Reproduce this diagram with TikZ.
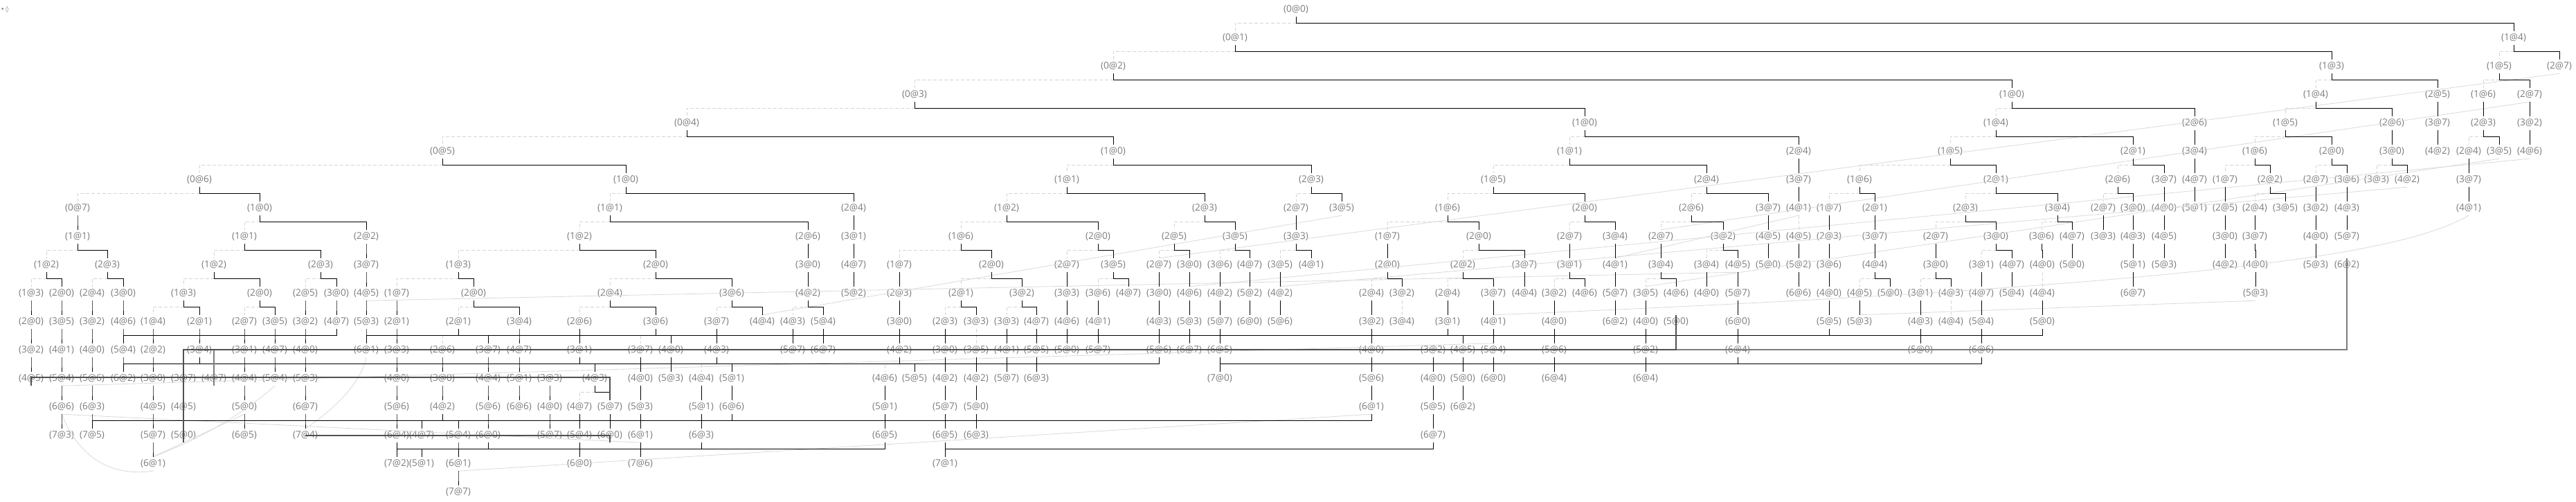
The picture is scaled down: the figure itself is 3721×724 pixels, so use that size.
\documentclass[tikz,border=0pt]{standalone}
\usepackage{fontspec}
\newfontfamily\lblfont{Open Sans}[Scale=1]
\newfontfamily\symfont{DejaVu Sans}
\definecolor{txtgray}{RGB}{125,125,125}
\definecolor{dashgray}{RGB}{212,212,212}
\definecolor{thickgray}{RGB}{80,80,80}
\definecolor{thickgraylight}{RGB}{125,125,125}
\definecolor{crossgray}{RGB}{218,218,218}
\tikzset{
  lbl/.style={text=txtgray, font=\lblfont\fontsize{13.6}{14}\selectfont, inner sep=0pt, minimum height=20pt, anchor=center},
  leftedge/.style={draw=dashgray, dash pattern=on 5pt off 3pt, line width=0.9pt},
  rightedge/.style={draw=black, line width=1pt},
  thickedge/.style={draw=thickgray, line width=2pt},
  thickedgelight/.style={draw=thickgraylight, line width=2pt},
  crossedge/.style={draw=crossgray, line width=0.8pt}
}
\newcommand\nd[3]{\node[lbl] (r#2x#1) at (#1,{14+41*#2}) {(#3)};}
\newcommand\EL[2]{\draw[leftedge] (#1.south) -- ++(0,9) -| (#2.north);}
\newcommand\ER[2]{\draw[rightedge] (#1.south) -- ++(0,9) -| (#2.north);}
\begin{document}
\begin{tikzpicture}[x=1pt,y=-1pt]
\useasboundingbox (0,0) rectangle (3721,724);
\fill[white] (0,0) rectangle (3721,724);
\node[text=txtgray, font=\symfont\fontsize{9}{10}\selectfont, inner sep=0pt, anchor=west] (legend) at (1,14) {•\,◊};
% row 0
\nd{1872}{0}{0@0}
% row 1
\nd{1784}{1}{0@1} \nd{3631}{1}{1@4}
% row 2
\nd{1608}{2}{0@2} \nd{3368}{2}{1@3} \nd{3610}{2}{1@5} \nd{3697}{2}{2@7}
% row 3
\nd{1321}{3}{0@3} \nd{2906}{3}{1@0} \nd{3345}{3}{1@4} \nd{3521}{3}{2@5} \nd{3587}{3}{1@6} \nd{3654}{3}{2@7}
% row 4
\nd{992}{4}{0@4} \nd{2289}{4}{1@0} \nd{2883}{4}{1@4} \nd{3170}{4}{2@6} \nd{3301}{4}{1@5} \nd{3455}{4}{2@6} \nd{3521}{4}{3@7} \nd{3587}{4}{2@3} \nd{3654}{4}{3@2}
% row 5
\nd{639}{5}{0@5} \nd{1608}{5}{1@0} \nd{2267}{5}{1@1} \nd{2598}{5}{2@4} \nd{2817}{5}{1@5} \nd{3081}{5}{2@1} \nd{3170}{5}{3@4} \nd{3257}{5}{1@6} \nd{3368}{5}{2@0} \nd{3455}{5}{3@0} \nd{3521}{5}{4@2} \nd{3566}{5}{2@4} \nd{3610}{5}{3@5} \nd{3654}{5}{4@6}
% row 6
\nd{288}{6}{0@6} \nd{904}{6}{1@0} \nd{1541}{6}{1@1} \nd{1894}{6}{2@3} \nd{2157}{6}{1@5} \nd{2465}{6}{2@4} \nd{2598}{6}{3@7} \nd{2686}{6}{1@6} \nd{2883}{6}{2@1} \nd{3059}{6}{2@6} \nd{3126}{6}{3@7} \nd{3170}{6}{4@7} \nd{3214}{6}{1@7} \nd{3279}{6}{2@2} \nd{3345}{6}{2@7} \nd{3390}{6}{3@6} \nd{3433}{6}{3@3} \nd{3477}{6}{4@2} \nd{3566}{6}{3@7}
% row 7
\nd{112}{7}{0@7} \nd{375}{7}{1@0} \nd{881}{7}{1@1} \nd{1233}{7}{2@4} \nd{1454}{7}{1@2} \nd{1740}{7}{2@3} \nd{1872}{7}{2@7} \nd{1938}{7}{3@5} \nd{2091}{7}{1@6} \nd{2289}{7}{2@0} \nd{2443}{7}{2@6} \nd{2554}{7}{3@7} \nd{2598}{7}{4@1} \nd{2642}{7}{1@7} \nd{2708}{7}{2@1} \nd{2839}{7}{2@3} \nd{2972}{7}{3@4} \nd{3038}{7}{2@7} \nd{3081}{7}{3@0} \nd{3126}{7}{4@0} \nd{3170}{7}{5@1} \nd{3214}{7}{2@5} \nd{3257}{7}{2@4} \nd{3301}{7}{3@5} \nd{3345}{7}{3@2} \nd{3390}{7}{4@3} \nd{3566}{7}{4@1}
% row 8
\nd{112}{8}{1@1} \nd{353}{8}{1@1} \nd{529}{8}{2@2} \nd{837}{8}{1@2} \nd{1167}{8}{2@6} \nd{1233}{8}{3@1} \nd{1388}{8}{1@6} \nd{1586}{8}{2@0} \nd{1696}{8}{2@5} \nd{1784}{8}{3@5} \nd{1872}{8}{3@3} \nd{2004}{8}{1@7} \nd{2136}{8}{2@0} \nd{2267}{8}{2@7} \nd{2333}{8}{3@4} \nd{2399}{8}{2@7} \nd{2489}{8}{3@2} \nd{2554}{8}{4@5} \nd{2598}{8}{4@5} \nd{2642}{8}{2@3} \nd{2708}{8}{3@7} \nd{2796}{8}{2@7} \nd{2883}{8}{3@0} \nd{2949}{8}{3@6} \nd{2993}{8}{4@7} \nd{3038}{8}{3@3} \nd{3081}{8}{4@3} \nd{3126}{8}{4@5} \nd{3214}{8}{3@0} \nd{3257}{8}{3@7} \nd{3345}{8}{4@0} \nd{3390}{8}{5@7}
% row 9
\nd{67}{9}{1@2} \nd{155}{9}{2@3} \nd{309}{9}{1@2} \nd{463}{9}{2@3} \nd{529}{9}{3@7} \nd{662}{9}{1@3} \nd{947}{9}{2@0} \nd{1167}{9}{3@0} \nd{1233}{9}{4@7} \nd{1299}{9}{1@7} \nd{1432}{9}{2@0} \nd{1541}{9}{2@7} \nd{1608}{9}{3@5} \nd{1674}{9}{2@7} \nd{1718}{9}{3@0} \nd{1762}{9}{3@6} \nd{1805}{9}{4@7} \nd{1849}{9}{3@5} \nd{1894}{9}{4@1} \nd{2004}{9}{2@0} \nd{2113}{9}{2@2} \nd{2202}{9}{3@7} \nd{2267}{9}{3@1} \nd{2333}{9}{4@1} \nd{2399}{9}{3@4} \nd{2465}{9}{3@4} \nd{2510}{9}{4@5} \nd{2554}{9}{5@0} \nd{2598}{9}{5@2} \nd{2642}{9}{3@6} \nd{2708}{9}{4@4} \nd{2796}{9}{3@0} \nd{2862}{9}{3@1} \nd{2906}{9}{4@7} \nd{2950}{9}{4@0} \nd{2993}{9}{5@0} \nd{3081}{9}{5@1} \nd{3126}{9}{5@3} \nd{3214}{9}{4@2} \nd{3258}{9}{4@0} \nd{3345}{9}{5@3} \nd{3390}{9}{6@2}
% row 10
\nd{45}{10}{1@3} \nd{89}{10}{2@0} \nd{133}{10}{2@4} \nd{178}{10}{3@0} \nd{265}{10}{1@3} \nd{375}{10}{2@0} \nd{441}{10}{2@5} \nd{486}{10}{3@0} \nd{529}{10}{4@5} \nd{573}{10}{1@7} \nd{684}{10}{2@0} \nd{881}{10}{2@4} \nd{1057}{10}{3@6} \nd{1167}{10}{4@2} \nd{1233}{10}{5@2} \nd{1299}{10}{2@3} \nd{1388}{10}{2@1} \nd{1476}{10}{3@2} \nd{1541}{10}{3@3} \nd{1586}{10}{3@6} \nd{1630}{10}{4@7} \nd{1674}{10}{3@0} \nd{1718}{10}{4@6} \nd{1762}{10}{4@2} \nd{1805}{10}{5@2} \nd{1849}{10}{4@2} \nd{1981}{10}{2@4} \nd{2025}{10}{3@2} \nd{2091}{10}{2@4} \nd{2157}{10}{3@7} \nd{2202}{10}{4@4} \nd{2245}{10}{3@2} \nd{2289}{10}{4@6} \nd{2333}{10}{5@7} \nd{2377}{10}{3@5} \nd{2421}{10}{4@6} \nd{2465}{10}{4@0} \nd{2510}{10}{5@7} \nd{2598}{10}{6@6} \nd{2642}{10}{4@0} \nd{2686}{10}{4@5} \nd{2730}{10}{5@0} \nd{2774}{10}{3@1} \nd{2818}{10}{4@3} \nd{2862}{10}{4@7} \nd{2906}{10}{5@4} \nd{2950}{10}{4@4} \nd{3081}{10}{6@7} \nd{3258}{10}{5@3}
% row 11
\nd{45}{11}{2@0} \nd{89}{11}{3@5} \nd{133}{11}{3@2} \nd{178}{11}{4@6} \nd{221}{11}{1@4} \nd{288}{11}{2@1} \nd{353}{11}{2@7} \nd{397}{11}{3@5} \nd{441}{11}{3@2} \nd{486}{11}{4@7} \nd{529}{11}{5@3} \nd{573}{11}{2@1} \nd{662}{11}{2@1} \nd{750}{11}{3@4} \nd{837}{11}{2@6} \nd{947}{11}{3@6} \nd{1035}{11}{3@7} \nd{1101}{11}{4@4} \nd{1145}{11}{4@3} \nd{1189}{11}{5@4} \nd{1299}{11}{3@0} \nd{1365}{11}{2@3} \nd{1410}{11}{3@3} \nd{1454}{11}{3@3} \nd{1497}{11}{4@7} \nd{1541}{11}{4@6} \nd{1586}{11}{4@1} \nd{1674}{11}{4@3} \nd{1718}{11}{5@3} \nd{1762}{11}{5@7} \nd{1805}{11}{6@0} \nd{1849}{11}{5@6} \nd{1981}{11}{3@2} \nd{2025}{11}{3@4} \nd{2091}{11}{3@1} \nd{2157}{11}{4@1} \nd{2245}{11}{4@0} \nd{2333}{11}{6@2} \nd{2377}{11}{4@0} \nd{2421}{11}{5@0} \nd{2510}{11}{6@0} \nd{2642}{11}{5@5} \nd{2686}{11}{5@3} \nd{2774}{11}{4@3} \nd{2818}{11}{4@4} \nd{2862}{11}{5@4} \nd{2950}{11}{5@0}
% row 12
\nd{45}{12}{3@2} \nd{89}{12}{4@1} \nd{133}{12}{4@0} \nd{178}{12}{5@4} \nd{221}{12}{2@2} \nd{288}{12}{3@4} \nd{353}{12}{3@1} \nd{397}{12}{4@7} \nd{441}{12}{4@0} \nd{529}{12}{6@1} \nd{573}{12}{3@3} \nd{639}{12}{2@6} \nd{705}{12}{3@7} \nd{750}{12}{4@7} \nd{837}{12}{3@1} \nd{925}{12}{3@7} \nd{969}{12}{4@0} \nd{1035}{12}{4@3} \nd{1145}{12}{5@7} \nd{1189}{12}{6@7} \nd{1299}{12}{4@2} \nd{1365}{12}{3@0} \nd{1410}{12}{3@5} \nd{1454}{12}{4@1} \nd{1497}{12}{5@5} \nd{1541}{12}{5@0} \nd{1586}{12}{5@7} \nd{1674}{12}{5@6} \nd{1718}{12}{6@7} \nd{1762}{12}{6@5} \nd{1981}{12}{4@0} \nd{2070}{12}{3@2} \nd{2113}{12}{4@5} \nd{2157}{12}{5@4} \nd{2245}{12}{5@6} \nd{2377}{12}{5@2} \nd{2510}{12}{6@4} \nd{2774}{12}{5@0} \nd{2862}{12}{6@6}
% row 13
\nd{45}{13}{4@5} \nd{89}{13}{5@4} \nd{133}{13}{5@6} \nd{178}{13}{6@2} \nd{221}{13}{3@0} \nd{265}{13}{3@7} \nd{309}{13}{4@7} \nd{353}{13}{4@4} \nd{397}{13}{5@4} \nd{441}{13}{5@3} \nd{573}{13}{4@0} \nd{639}{13}{3@0} \nd{705}{13}{4@4} \nd{750}{13}{5@1} \nd{794}{13}{3@3} \nd{859}{13}{4@3} \nd{925}{13}{4@0} \nd{969}{13}{5@3} \nd{1013}{13}{4@4} \nd{1057}{13}{5@1} \nd{1278}{13}{4@6} \nd{1321}{13}{5@5} \nd{1365}{13}{4@2} \nd{1410}{13}{4@2} \nd{1454}{13}{5@7} \nd{1497}{13}{6@3} \nd{1762}{13}{7@0} \nd{1981}{13}{5@6} \nd{2070}{13}{4@0} \nd{2113}{13}{5@0} \nd{2157}{13}{6@0} \nd{2245}{13}{6@4} \nd{2377}{13}{6@4}
% row 14
\nd{89}{14}{6@6} \nd{133}{14}{6@3} \nd{221}{14}{4@5} \nd{265}{14}{4@5} \nd{353}{14}{5@0} \nd{441}{14}{6@7} \nd{573}{14}{5@6} \nd{639}{14}{4@2} \nd{705}{14}{5@6} \nd{750}{14}{6@6} \nd{794}{14}{4@0} \nd{837}{14}{4@7} \nd{881}{14}{5@7} \nd{925}{14}{5@3} \nd{1013}{14}{5@1} \nd{1057}{14}{6@6} \nd{1278}{14}{5@1} \nd{1365}{14}{5@7} \nd{1410}{14}{5@0} \nd{1981}{14}{6@1} \nd{2070}{14}{5@5} \nd{2113}{14}{6@2}
% row 15
\nd{89}{15}{7@3} \nd{133}{15}{7@5} \nd{221}{15}{5@7} \nd{265}{15}{5@0} \nd{353}{15}{6@5} \nd{441}{15}{7@4} \nd{573}{15}{6@4} \nd{609}{15}{4@7} \nd{662}{15}{5@4} \nd{705}{15}{6@0} \nd{794}{15}{5@7} \nd{837}{15}{5@4} \nd{881}{15}{6@0} \nd{925}{15}{6@1} \nd{1013}{15}{6@3} \nd{1278}{15}{6@5} \nd{1365}{15}{6@5} \nd{1410}{15}{6@3} \nd{2070}{15}{6@7}
% row 16
\nd{221}{16}{6@1} \nd{573}{16}{7@2} \nd{609}{16}{5@1} \nd{662}{16}{6@1} \nd{837}{16}{6@0} \nd{925}{16}{7@6} \nd{1365}{16}{7@1}
% row 17
\nd{662}{17}{7@7}

% ---------- faint cross links ----------
\draw[crossedge] (r2x3697.south) -- (r9x1674.north);
\draw[crossedge] (r7x1938.south) -- (r11x1101.north);
\draw[crossedge] (r3x3654.south) -- (r8x2399.north);
\draw[crossedge] (r7x2598.south) -- (r9x2333.north);
\draw[crossedge] (r5x3654.south) -- (r10x1718.north);
\draw[crossedge] (r5x3610.south) -- (r10x2377.north);
\draw[crossedge] (r6x3477.south) -- (r10x1849.north);
\draw[crossedge] (r7x3566.south) .. controls (3480,360) and (3250,410) .. (r11x2157.north);
\draw[crossedge] (r10x3258.south) -- (r11x2686.north);
\draw[crossedge] (r10x529.south) -- (r9x2510.south);
\draw[crossedge] (r13x89.south) -- (r12x2157.north);
\draw[crossedge] (r16x662.south) -- (r14x1981.south);
\draw[crossedge] (r14x89.south) -- (r15x925.south);
\draw[crossedge] (r14x89.south) .. controls (110,650) and (150,690) .. (r16x221.south);
\draw[crossedge] (r16x221.north) .. controls (300,630) and (360,590) .. (r13x397.south);
\draw[crossedge] (r16x221.north) -- (r14x353.south);
\draw[crossedge] (r12x529.south) .. controls (520,560) and (470,600) .. (r15x441.north);

% ---------- edges ----------
\EL{r0x1872}{r1x1784} \ER{r0x1872}{r1x3631}
\EL{r1x1784}{r2x1608} \ER{r1x1784}{r2x3368} \EL{r1x3631}{r2x3610} \ER{r1x3631}{r2x3697}
\EL{r2x1608}{r3x1321} \ER{r2x1608}{r3x2906} \EL{r2x3368}{r3x3345} \ER{r2x3368}{r3x3521} \EL{r2x3610}{r3x3587} \ER{r2x3610}{r3x3654}
\EL{r3x1321}{r4x992} \ER{r3x1321}{r4x2289} \EL{r3x2906}{r4x2883} \ER{r3x2906}{r4x3170} \EL{r3x3345}{r4x3301} \ER{r3x3345}{r4x3455} \ER{r3x3521}{r4x3521} \ER{r3x3587}{r4x3587} \ER{r3x3654}{r4x3654}
\EL{r4x992}{r5x639} \ER{r4x992}{r5x1608} \EL{r4x2289}{r5x2267} \ER{r4x2289}{r5x2598} \EL{r4x2883}{r5x2817} \ER{r4x2883}{r5x3081} \ER{r4x3170}{r5x3170} \EL{r4x3301}{r5x3257} \ER{r4x3301}{r5x3368} \ER{r4x3455}{r5x3455} \ER{r4x3521}{r5x3521} \EL{r4x3587}{r5x3566} \ER{r4x3587}{r5x3610} \ER{r4x3654}{r5x3654}
\EL{r5x639}{r6x288} \ER{r5x639}{r6x904} \EL{r5x1608}{r6x1541} \ER{r5x1608}{r6x1894} \EL{r5x2267}{r6x2157} \ER{r5x2267}{r6x2465} \ER{r5x2598}{r6x2598} \EL{r5x2817}{r6x2686} \ER{r5x2817}{r6x2883} \EL{r5x3081}{r6x3059} \ER{r5x3081}{r6x3126} \ER{r5x3170}{r6x3170} \EL{r5x3257}{r6x3214} \ER{r5x3257}{r6x3279} \EL{r5x3368}{r6x3345} \ER{r5x3368}{r6x3390} \EL{r5x3455}{r6x3433} \ER{r5x3455}{r6x3477} \ER{r5x3566}{r6x3566}
\EL{r6x288}{r7x112} \ER{r6x288}{r7x375} \EL{r6x904}{r7x881} \ER{r6x904}{r7x1233} \EL{r6x1541}{r7x1454} \ER{r6x1541}{r7x1740} \EL{r6x1894}{r7x1872} \ER{r6x1894}{r7x1938} \EL{r6x2157}{r7x2091} \ER{r6x2157}{r7x2289} \EL{r6x2465}{r7x2443} \ER{r6x2465}{r7x2554} \ER{r6x2598}{r7x2598} \EL{r6x2686}{r7x2642} \ER{r6x2686}{r7x2708} \EL{r6x2883}{r7x2839} \ER{r6x2883}{r7x2972} \EL{r6x3059}{r7x3038} \ER{r6x3059}{r7x3081} \ER{r6x3126}{r7x3126} \ER{r6x3170}{r7x3170} \ER{r6x3214}{r7x3214} \EL{r6x3279}{r7x3257} \ER{r6x3279}{r7x3301} \ER{r6x3345}{r7x3345} \ER{r6x3390}{r7x3390} \ER{r6x3566}{r7x3566}
\ER{r7x112}{r8x112} \EL{r7x375}{r8x353} \ER{r7x375}{r8x529} \EL{r7x881}{r8x837} \ER{r7x881}{r8x1167} \ER{r7x1233}{r8x1233} \EL{r7x1454}{r8x1388} \ER{r7x1454}{r8x1586} \EL{r7x1740}{r8x1696} \ER{r7x1740}{r8x1784} \ER{r7x1872}{r8x1872} \EL{r7x2091}{r8x2004} \ER{r7x2091}{r8x2136} \EL{r7x2289}{r8x2267} \ER{r7x2289}{r8x2333} \EL{r7x2443}{r8x2399} \ER{r7x2443}{r8x2489} \ER{r7x2554}{r8x2554} \EL{r7x2598}{r8x2598} \ER{r7x2642}{r8x2642} \ER{r7x2708}{r8x2708} \EL{r7x2839}{r8x2796} \ER{r7x2839}{r8x2883} \EL{r7x2972}{r8x2949} \ER{r7x2972}{r8x2993} \ER{r7x3038}{r8x3038} \ER{r7x3081}{r8x3081} \ER{r7x3126}{r8x3126} \ER{r7x3214}{r8x3214} \ER{r7x3257}{r8x3257} \ER{r7x3345}{r8x3345} \ER{r7x3390}{r8x3390}
\EL{r8x112}{r9x67} \ER{r8x112}{r9x155} \EL{r8x353}{r9x309} \ER{r8x353}{r9x463} \ER{r8x529}{r9x529} \EL{r8x837}{r9x662} \ER{r8x837}{r9x947} \ER{r8x1167}{r9x1167} \ER{r8x1233}{r9x1233} \EL{r8x1388}{r9x1299} \ER{r8x1388}{r9x1432} \EL{r8x1586}{r9x1541} \ER{r8x1586}{r9x1608} \EL{r8x1696}{r9x1674} \ER{r8x1696}{r9x1718} \EL{r8x1784}{r9x1762} \ER{r8x1784}{r9x1805} \EL{r8x1872}{r9x1849} \ER{r8x1872}{r9x1894} \ER{r8x2004}{r9x2004} \EL{r8x2136}{r9x2113} \ER{r8x2136}{r9x2202} \ER{r8x2267}{r9x2267} \ER{r8x2333}{r9x2333} \ER{r8x2399}{r9x2399} \EL{r8x2489}{r9x2465} \ER{r8x2489}{r9x2510} \ER{r8x2554}{r9x2554} \ER{r8x2598}{r9x2598} \ER{r8x2642}{r9x2642} \ER{r8x2708}{r9x2708} \ER{r8x2796}{r9x2796} \EL{r8x2883}{r9x2862} \ER{r8x2883}{r9x2906} \ER{r8x2949}{r9x2950} \ER{r8x2993}{r9x2993} \ER{r8x3081}{r9x3081} \ER{r8x3126}{r9x3126} \ER{r8x3214}{r9x3214} \ER{r8x3257}{r9x3258} \ER{r8x3345}{r9x3345}
\EL{r9x67}{r10x45} \ER{r9x67}{r10x89} \EL{r9x155}{r10x133} \ER{r9x155}{r10x178} \EL{r9x309}{r10x265} \ER{r9x309}{r10x375} \EL{r9x463}{r10x441} \ER{r9x463}{r10x486} \ER{r9x529}{r10x529} \EL{r9x662}{r10x573} \ER{r9x662}{r10x684} \EL{r9x947}{r10x881} \ER{r9x947}{r10x1057} \ER{r9x1167}{r10x1167} \ER{r9x1233}{r10x1233} \ER{r9x1299}{r10x1299} \EL{r9x1432}{r10x1388} \ER{r9x1432}{r10x1476} \ER{r9x1541}{r10x1541} \EL{r9x1608}{r10x1586} \ER{r9x1608}{r10x1630} \ER{r9x1674}{r10x1674} \ER{r9x1718}{r10x1718} \ER{r9x1762}{r10x1762} \ER{r9x1805}{r10x1805} \ER{r9x1849}{r10x1849} \EL{r9x2004}{r10x1981} \ER{r9x2004}{r10x2025} \EL{r9x2113}{r10x2091} \ER{r9x2113}{r10x2157} \ER{r9x2202}{r10x2202} \EL{r9x2267}{r10x2245} \ER{r9x2267}{r10x2289} \ER{r9x2333}{r10x2333} \EL{r9x2399}{r10x2377} \ER{r9x2399}{r10x2421} \ER{r9x2465}{r10x2465} \ER{r9x2510}{r10x2510} \ER{r9x2598}{r10x2598} \ER{r9x2642}{r10x2642} \EL{r9x2708}{r10x2686} \ER{r9x2708}{r10x2730} \EL{r9x2796}{r10x2774} \ER{r9x2796}{r10x2818} \ER{r9x2862}{r10x2862} \ER{r9x2906}{r10x2906} \EL{r9x2950}{r10x2950} \ER{r9x3081}{r10x3081} \ER{r9x3258}{r10x3258}
\ER{r10x45}{r11x45} \ER{r10x89}{r11x89} \ER{r10x133}{r11x133} \ER{r10x178}{r11x178} \EL{r10x265}{r11x221} \ER{r10x265}{r11x288} \EL{r10x375}{r11x353} \ER{r10x375}{r11x397} \ER{r10x441}{r11x441} \ER{r10x486}{r11x486} \ER{r10x529}{r11x529} \ER{r10x573}{r11x573} \EL{r10x684}{r11x662} \ER{r10x684}{r11x750} \EL{r10x881}{r11x837} \ER{r10x881}{r11x947} \EL{r10x1057}{r11x1035} \ER{r10x1057}{r11x1101} \EL{r10x1167}{r11x1145} \ER{r10x1167}{r11x1189} \ER{r10x1299}{r11x1299} \EL{r10x1388}{r11x1365} \ER{r10x1388}{r11x1410} \EL{r10x1476}{r11x1454} \ER{r10x1476}{r11x1497} \ER{r10x1541}{r11x1541} \ER{r10x1586}{r11x1586} \ER{r10x1674}{r11x1674} \ER{r10x1718}{r11x1718} \ER{r10x1762}{r11x1762} \ER{r10x1805}{r11x1805} \ER{r10x1849}{r11x1849} \ER{r10x1981}{r11x1981} \EL{r10x2025}{r11x2025} \ER{r10x2091}{r11x2091} \ER{r10x2157}{r11x2157} \ER{r10x2245}{r11x2245} \ER{r10x2333}{r11x2333} \ER{r10x2377}{r11x2377} \ER{r10x2510}{r11x2510} \ER{r10x2642}{r11x2642} \ER{r10x2686}{r11x2686} \ER{r10x2774}{r11x2774} \EL{r10x2818}{r11x2818} \ER{r10x2862}{r11x2862} \ER{r10x2950}{r11x2950}
% row 11 -> 12
\ER{r11x45}{r12x45} \ER{r11x89}{r12x89} \ER{r11x133}{r12x133} \ER{r11x178}{r12x178} \ER{r11x221}{r12x221} \ER{r11x288}{r12x288} \ER{r11x353}{r12x353} \ER{r11x397}{r12x397} \ER{r11x441}{r12x441} \ER{r11x529}{r12x529} \ER{r11x573}{r12x573} \ER{r11x750}{r12x750} \ER{r11x837}{r12x837} \ER{r11x1035}{r12x1035} \ER{r11x1145}{r12x1145} \ER{r11x1189}{r12x1189} \ER{r11x1299}{r12x1299} \ER{r11x1365}{r12x1365} \EL{r11x1410}{r12x1410} \ER{r11x1454}{r12x1454} \ER{r11x1497}{r12x1497} \ER{r11x1541}{r12x1541} \ER{r11x1586}{r12x1586} \ER{r11x1674}{r12x1674} \ER{r11x1718}{r12x1718} \ER{r11x1762}{r12x1762} \ER{r11x1981}{r12x1981} \ER{r11x2157}{r12x2157} \ER{r11x2245}{r12x2245} \ER{r11x2377}{r12x2377} \ER{r11x2510}{r12x2510} \ER{r11x2774}{r12x2774} \ER{r11x2862}{r12x2862}
\ER{r11x2091}{r12x2113} \EL{r11x947}{r12x925} \ER{r11x947}{r12x969}
\ER{r11x486}{r12x178} \EL{r11x662}{r12x639} \ER{r11x662}{r12x705} \ER{r11x2950}{r12x529} \ER{r11x2642}{r12x2510}
% row 12 -> 13
\ER{r12x45}{r13x45} \ER{r12x89}{r13x89} \ER{r12x133}{r13x133} \ER{r12x178}{r13x178} \ER{r12x221}{r13x221} \ER{r12x353}{r13x353} \ER{r12x397}{r13x397} \ER{r12x441}{r13x441} \ER{r12x573}{r13x573} \ER{r12x639}{r13x639} \ER{r12x705}{r13x705} \ER{r12x750}{r13x750} \ER{r12x925}{r13x925} \ER{r12x969}{r13x969} \ER{r12x1365}{r13x1365} \ER{r12x1410}{r13x1410} \ER{r12x1454}{r13x1454} \ER{r12x1497}{r13x1497} \ER{r12x1762}{r13x1762} \ER{r12x1981}{r13x1981} \ER{r12x2070}{r13x2070} \ER{r12x2113}{r13x2113} \ER{r12x2157}{r13x2157} \ER{r12x2245}{r13x2245} \ER{r12x2377}{r13x2377}
\ER{r12x837}{r13x859} \EL{r12x1299}{r13x1278} \ER{r12x1299}{r13x1321} \EL{r12x1035}{r13x1013} \ER{r12x1035}{r13x1057}
\ER{r12x1674}{r13x178} \ER{r12x2862}{r13x1762} \ER{r12x288}{r13x309} \ER{r12x2510}{r13x2377}
% row 13 -> 14
\ER{r13x89}{r14x89} \ER{r13x133}{r14x133} \ER{r13x221}{r14x221} \ER{r13x353}{r14x353} \ER{r13x441}{r14x441} \ER{r13x573}{r14x573} \ER{r13x639}{r14x639} \ER{r13x705}{r14x705} \ER{r13x750}{r14x750} \ER{r13x794}{r14x794} \ER{r13x925}{r14x925} \ER{r13x1013}{r14x1013} \ER{r13x1057}{r14x1057} \ER{r13x1278}{r14x1278} \ER{r13x1365}{r14x1365} \ER{r13x1410}{r14x1410} \ER{r13x1981}{r14x1981} \ER{r13x2070}{r14x2070} \ER{r13x2113}{r14x2113}
\EL{r13x859}{r14x837} \ER{r13x859}{r14x881}
% row 14 -> 15
\ER{r14x89}{r15x89} \ER{r14x133}{r15x133} \ER{r14x221}{r15x221} \ER{r14x353}{r15x353} \ER{r14x441}{r15x441} \ER{r14x573}{r15x573} \ER{r14x705}{r15x705} \ER{r14x794}{r15x794} \ER{r14x837}{r15x837} \ER{r14x881}{r15x881} \ER{r14x925}{r15x925} \ER{r14x1013}{r15x1013} \ER{r14x1278}{r15x1278} \ER{r14x1365}{r15x1365} \ER{r14x1410}{r15x1410} \ER{r14x2070}{r15x2070}
\ER{r14x1981}{r15x133} \ER{r14x639}{r15x662} \ER{r14x1057}{r15x609}
% row 15 -> 16
\ER{r15x221}{r16x221} \ER{r15x573}{r16x573} \ER{r15x662}{r16x662} \ER{r15x837}{r16x837} \ER{r15x925}{r16x925} \ER{r15x1365}{r16x1365}
\ER{r15x1278}{r16x573} \ER{r15x573}{r16x609} \ER{r15x2070}{r16x1365} \ER{r15x705}{r16x662} \ER{r15x1013}{r16x925}
% row 16 -> 17
\ER{r16x662}{r17x662}

% ---------- thick links ----------
\draw[thickedgelight] (r13x309.south) -- (309,505) -| (r9x3390.north);
\draw[thickedge] (r15x265.south) -- (265,505) -| (r11x2421.north);
\draw[thickedge] (r13x45.south) -- (45,545) -| (r14x881.north);
\draw[thickedge] (r15x441.center) -| (r15x881.south);
\end{tikzpicture}
\end{document}
